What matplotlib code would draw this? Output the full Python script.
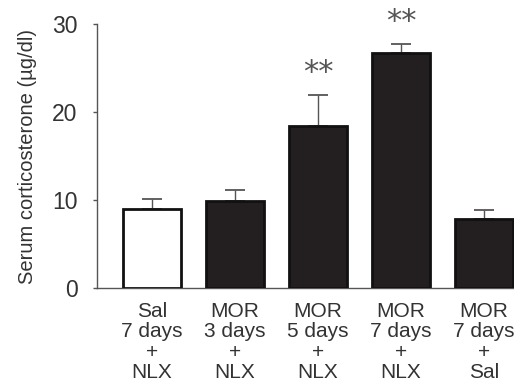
import matplotlib
matplotlib.use('Agg')
import matplotlib.pyplot as plt
import numpy as np

plt.rcParams['font.family'] = ['Liberation Sans', 'DejaVu Sans']

# 各组数据
groups = ['Sal\n7 days\n+\nNLX', 'MOR\n3 days\n+\nNLX', 'MOR\n5 days\n+\nNLX',
          'MOR\n7 days\n+\nNLX', 'MOR\n7 days\n+\nSal']
means = [9.0, 9.9, 18.4, 26.7, 7.8]
sems = [1.1, 1.2, 3.5, 1.0, 1.1]
signif = ['', '', '**', '**', '']

GRAY = '#555555'
TXT = '#333333'

fig = plt.figure(figsize=(5.14, 3.88), dpi=100)
ax = fig.add_axes([0.189, 0.2577, 0.811, 0.680])

x = np.arange(len(groups))
colors = ['white'] + ['#231f20'] * (len(groups) - 1)
ax.bar(x, means, width=0.70, color=colors, edgecolor='#111111', linewidth=2.0, zorder=3)
ax.errorbar(x, means, yerr=[np.zeros(len(sems)), sems], fmt='none', ecolor=GRAY,
            elinewidth=1.0, capsize=7.5, capthick=1.3, zorder=2)

# 显著性标记
for xi, m, s, lab in zip(x, means, sems, signif):
    if lab:
        ax.text(xi, m + s + 2.6, lab, ha='center', va='center', fontsize=22,
                family='DejaVu Sans', color=GRAY, clip_on=False)

ax.set_xlim(-0.66, 4.36)
ax.set_ylim(0, 30)
ax.set_yticks([0, 10, 20, 30])
ax.set_xticks(x)
ax.set_xticklabels(groups, fontsize=15, color=TXT, linespacing=1.1)
ax.tick_params(axis='x', length=0, pad=10)
ax.tick_params(axis='y', length=3, width=1, color=GRAY, labelsize=16.5, labelcolor=TXT, pad=11)
ax.set_ylabel('Serum corticosterone (µg/dl)', fontsize=14.5, color=TXT, labelpad=11)

for side in ['top', 'right']:
    ax.spines[side].set_visible(False)
for side in ['left', 'bottom']:
    ax.spines[side].set_color(GRAY)
    ax.spines[side].set_linewidth(1.0)

fig.savefig('out.png', dpi=100)
